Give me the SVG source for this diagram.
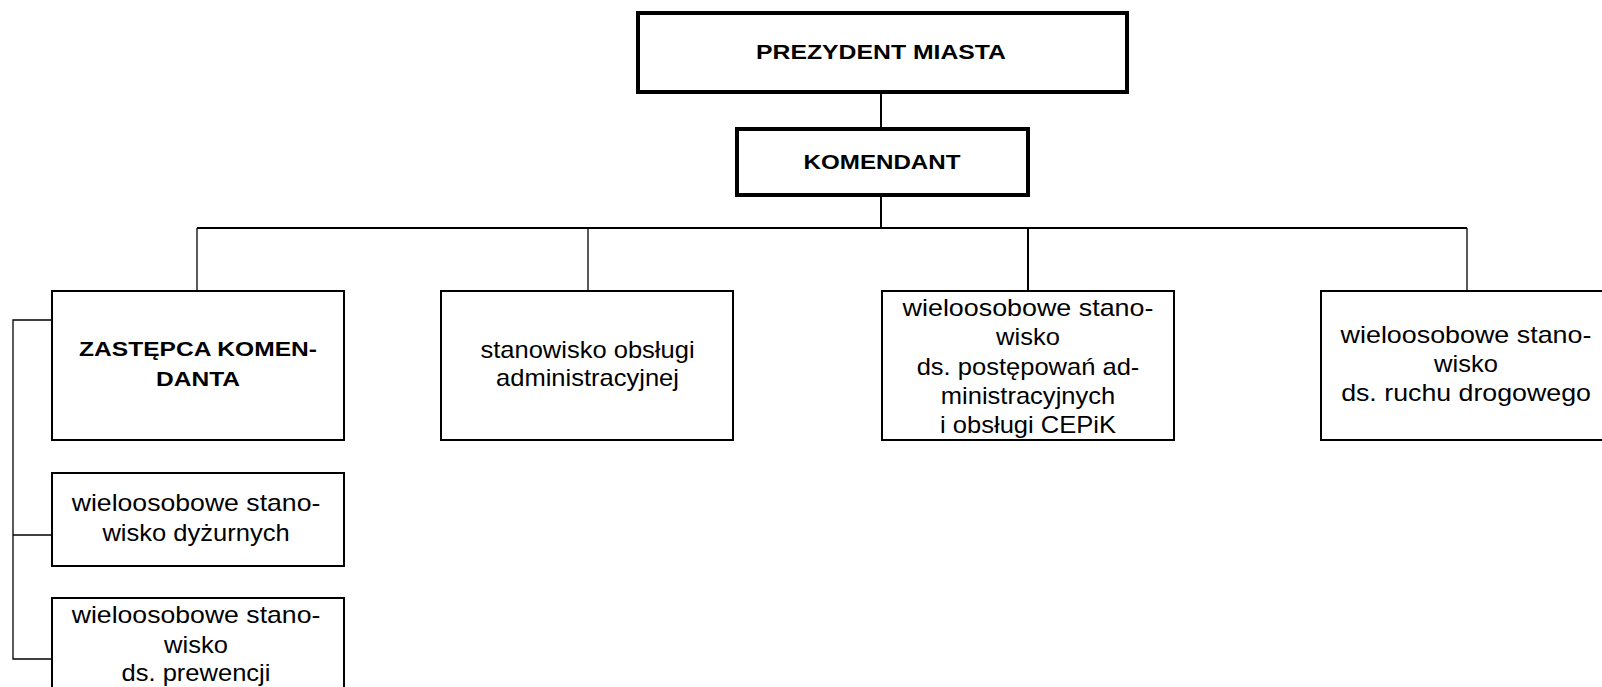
<svg xmlns="http://www.w3.org/2000/svg" width="1602" height="687" viewBox="0 0 1602 687">
<style>
.bg{fill:#fff}
.big{fill:#fff;stroke:#000;stroke-width:4}
.box{fill:#fff;stroke:#000;stroke-width:2}
.ln{fill:none;stroke:#000;stroke-width:2}
.thin{fill:none;stroke:#000;stroke-width:1.3}
.b{font-family:"Liberation Sans",Arial,sans-serif;font-weight:bold;font-size:21px;text-anchor:middle;fill:#000}
.r{font-family:"Liberation Sans",Arial,sans-serif;font-size:23px;text-anchor:middle;fill:#000}
</style>
<rect class="bg" x="0" y="0" width="1602" height="687"/>
<g id="connectors">
<path class="ln" d="M881 94 V127" stroke-width="2.5"/>
<path class="ln" d="M881 197 V228"/>
<path class="ln" d="M197 228 H1467"/>
<path class="thin" d="M197 228 V290"/>
<path class="thin" d="M588 228 V290"/>
<path class="ln" d="M1028 228 V290"/>
<path class="thin" d="M1467 228 V290"/>
<path class="thin" d="M51 320 H13 V659 H51" stroke-width="1.6"/>
<path class="thin" d="M13 535 H51" stroke-width="1.6"/>
</g>
<g id="prezydent">
<rect class="big" x="638" y="13" width="489" height="79"/>
<text class="b" transform="translate(881 0) scale(1.18 1)" x="0" y="59">PREZYDENT MIASTA</text>
</g>
<g id="komendant">
<rect class="big" x="737" y="129" width="291" height="66"/>
<text class="b" transform="translate(882 0) scale(1.15 1)" x="0" y="169">KOMENDANT</text>
</g>
<g id="zastepca">
<rect class="box" x="52" y="291" width="292" height="149"/>
<text class="b" transform="translate(198 0) scale(1.17 1)" x="0" y="356">ZASTĘPCA KOMEN-</text>
<text class="b" transform="translate(198 0) scale(1.17 1)" x="0" y="386">DANTA</text>
</g>
<g id="obsluga">
<rect class="box" x="441" y="291" width="292" height="149"/>
<text class="r" transform="translate(587.5 0) scale(1.11 1)" x="0" y="358">stanowisko obsługi</text>
<text class="r" transform="translate(587.5 0) scale(1.11 1)" x="0" y="386">administracyjnej</text>
</g>
<g id="cepik">
<rect class="box" x="882" y="291" width="292" height="149"/>
<text class="r" transform="translate(1028 0) scale(1.11 1)" x="0" y="316" textLength="226" lengthAdjust="spacingAndGlyphs">wieloosobowe stano-</text>
<text class="r" transform="translate(1028 0) scale(1.11 1)" x="0" y="345.5">wisko</text>
<text class="r" transform="translate(1028 0) scale(1.11 1)" x="0" y="375">ds. postępowań ad-</text>
<text class="r" transform="translate(1028 0) scale(1.11 1)" x="0" y="404.5">ministracyjnych</text>
<text class="r" transform="translate(1028 0) scale(1.11 1)" x="0" y="433">i obsługi CEPiK</text>
</g>
<g id="ruch">
<rect class="box" x="1321" y="291" width="300" height="149"/>
<text class="r" transform="translate(1466 0) scale(1.11 1)" x="0" y="343" textLength="226" lengthAdjust="spacingAndGlyphs">wieloosobowe stano-</text>
<text class="r" transform="translate(1466 0) scale(1.11 1)" x="0" y="372">wisko</text>
<text class="r" transform="translate(1466 0) scale(1.11 1)" x="0" y="401" textLength="225" lengthAdjust="spacingAndGlyphs">ds. ruchu drogowego</text>
</g>
<g id="dyzurni">
<rect class="box" x="52" y="473" width="292" height="93"/>
<text class="r" transform="translate(196 0) scale(1.11 1)" x="0" y="511" textLength="224" lengthAdjust="spacingAndGlyphs">wieloosobowe stano-</text>
<text class="r" transform="translate(196 0) scale(1.11 1)" x="0" y="541">wisko dyżurnych</text>
</g>
<g id="prewencja">
<rect class="box" x="52" y="598" width="292" height="120"/>
<text class="r" transform="translate(196 0) scale(1.11 1)" x="0" y="623" textLength="224" lengthAdjust="spacingAndGlyphs">wieloosobowe stano-</text>
<text class="r" transform="translate(196 0) scale(1.11 1)" x="0" y="653">wisko</text>
<text class="r" transform="translate(196 0) scale(1.11 1)" x="0" y="681">ds. prewencji</text>
</g>
</svg>
